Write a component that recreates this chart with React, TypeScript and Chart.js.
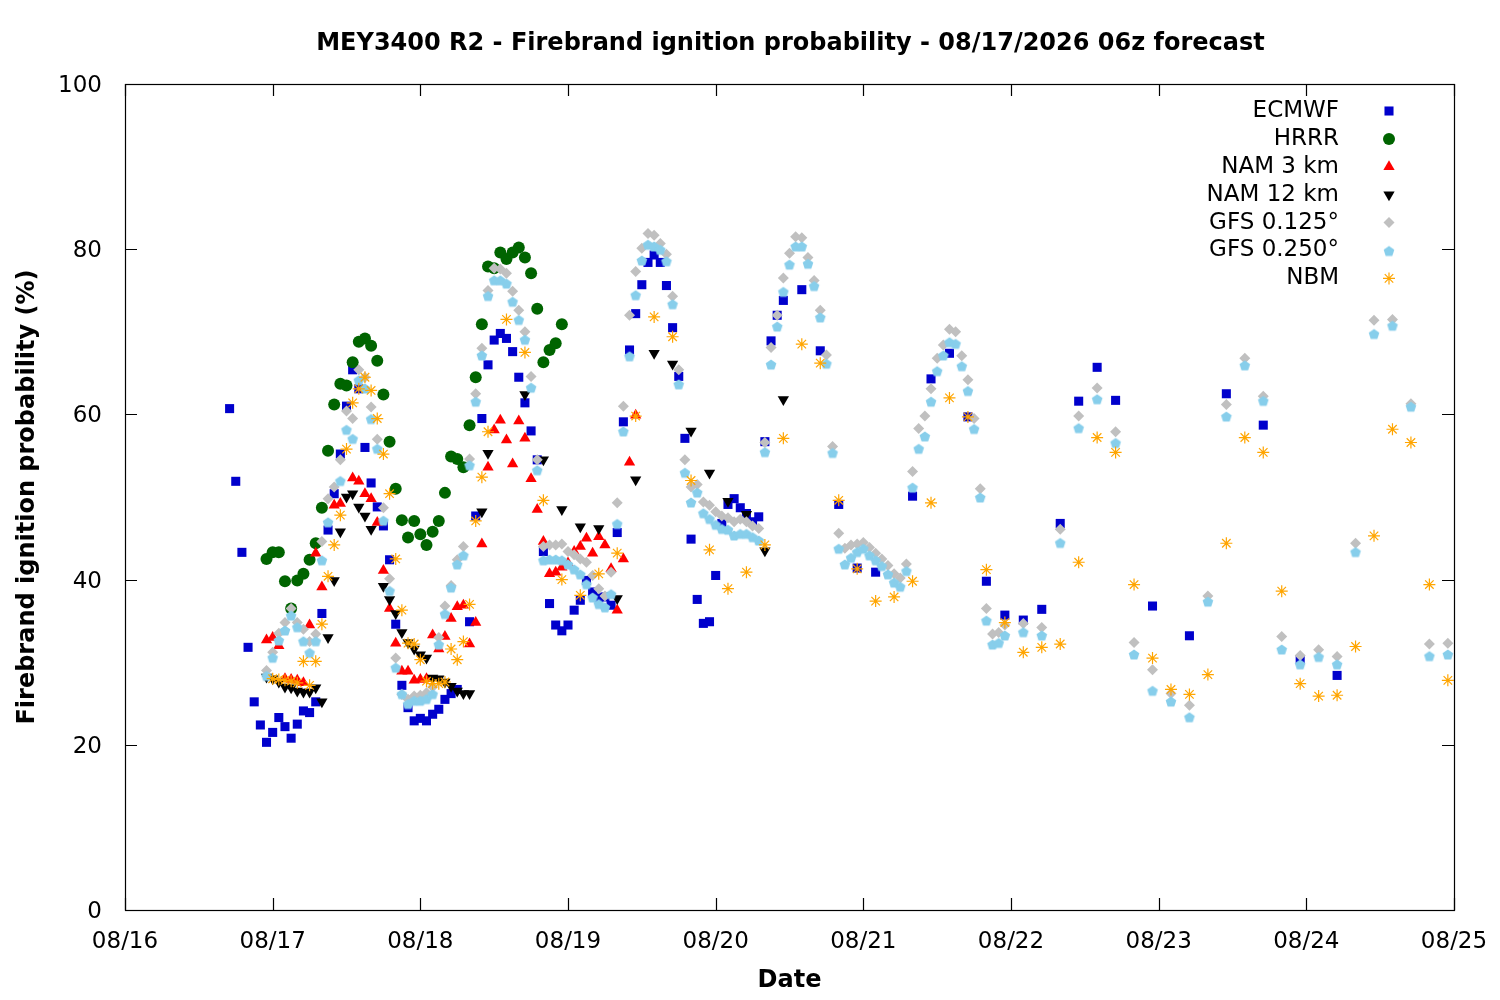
import { useEffect, useRef } from "react";
import { Chart, registerables } from "chart.js";
import { drawPoint } from "chart.js/helpers";

Chart.register(...registerables);

// hours after 08/16 00z
const dayLabels = ["08/16", "08/17", "08/18", "08/19", "08/20", "08/21", "08/22", "08/23", "08/24", "08/25"];

const ecmwfHours = [17, 18, 19, 20, 21, 22, 23, 24, 25, 26, 27, 28, 29, 30, 31, 32, 33, 34, 35, 36, 37, 38, 39, 40, 41, 42, 43, 44, 45, 46, 47, 48, 49, 50, 51, 52, 53, 54, 56, 57, 58, 59, 60, 61, 62, 63, 64, 65, 66, 67, 68, 69, 70, 71, 72, 73, 74, 75, 76, 77, 78, 79, 80, 81, 82, 83, 84, 85, 86, 87, 88, 89, 90, 91, 92, 93, 94, 95, 96, 97, 98, 99, 100, 101, 102, 103, 104, 105, 106, 107, 110, 113, 116, 119, 122, 128, 131, 134, 137, 140, 143, 146, 149, 152, 155, 158, 161, 167, 173, 179, 185, 191, 197];
const ecmwfValues = [60.7, 51.9, 43.3, 31.8, 25.2, 22.4, 20.3, 21.5, 23.3, 22.2, 20.8, 22.5, 24.1, 23.9, 25.2, 35.9, 46.0, 50.4, 55.2, 61.0, 65.4, 63.1, 56.0, 51.7, 48.8, 46.5, 42.4, 34.6, 27.2, 24.5, 22.9, 23.2, 22.9, 23.7, 24.3, 25.5, 26.2, 26.7, 34.9, 47.7, 59.5, 66.0, 69.0, 69.8, 69.2, 67.6, 64.5, 61.4, 58.0, 54.5, 43.4, 37.1, 34.5, 33.8, 34.5, 36.3, 37.5, 39.9, 38.5, 37.8, 37.9, 36.9, 45.7, 59.1, 67.8, 72.2, 75.7, 78.4, 79.3, 78.4, 75.6, 70.5, 64.6, 57.1, 44.9, 37.6, 34.7, 34.9, 40.5, 46.8, 49.1, 49.8, 48.7, 48.0, 47.0, 47.6, 56.7, 68.9, 72.0, 73.8, 75.1, 67.7, 49.1, 41.4, 40.9, 50.1, 64.3, 67.4, 59.7, 39.8, 35.7, 35.1, 36.4, 46.8, 61.6, 65.7, 61.7, 36.8, 33.2, 62.5, 58.7, 30.3, 28.4];

const hrrrHours = [23, 24, 25, 26, 27, 28, 29, 30, 31, 32, 33, 34, 35, 36, 37, 38, 39, 40, 41, 42, 43, 44, 45, 46, 47, 48, 49, 50, 51, 52, 53, 54, 55, 56, 57, 58, 59, 60, 61, 62, 63, 64, 65, 66, 67, 68, 69, 70, 71];
const hrrrValues = [42.5, 43.3, 43.3, 39.8, 36.5, 39.9, 40.7, 42.4, 44.4, 48.7, 55.6, 61.2, 63.7, 63.5, 66.3, 68.8, 69.2, 68.3, 66.5, 62.4, 56.7, 51.0, 47.2, 45.1, 47.1, 45.5, 44.2, 45.8, 47.1, 50.5, 54.9, 54.6, 53.6, 58.7, 64.5, 70.9, 77.9, 77.7, 79.6, 78.8, 79.6, 80.2, 79.0, 77.1, 72.8, 66.3, 67.8, 68.6, 70.9];

const nam3Hours = [23, 24, 25, 26, 27, 28, 29, 30, 31, 32, 34, 35, 37, 38, 39, 40, 41, 42, 43, 44, 45, 46, 47, 48, 49, 50, 51, 52, 53, 54, 55, 56, 57, 58, 59, 60, 61, 62, 63, 64, 65, 66, 67, 68, 69, 70, 71, 72, 73, 74, 75, 76, 77, 78, 79, 80, 81, 82, 83];
const nam3Values = [32.7, 33.0, 32.0, 28.0, 27.9, 27.8, 27.5, 34.5, 43.2, 39.1, 49.0, 49.2, 52.3, 51.9, 50.4, 49.8, 46.9, 41.1, 36.5, 32.3, 28.9, 28.9, 27.8, 27.9, 28.0, 33.3, 31.6, 33.1, 35.3, 36.7, 36.9, 32.2, 34.8, 44.3, 53.6, 58.1, 59.3, 56.9, 54.0, 59.2, 57.1, 52.2, 48.5, 44.6, 40.7, 40.9, 41.5, 42.0, 43.4, 44.0, 45.0, 43.2, 45.2, 44.2, 41.3, 36.3, 42.5, 54.2, 59.9];

const nam12Hours = [23, 24, 25, 26, 27, 28, 29, 30, 31, 32, 33, 34, 35, 36, 37, 38, 39, 40, 42, 43, 44, 45, 46, 47, 48, 49, 50, 51, 52, 53, 54, 55, 56, 58, 59, 65, 68, 71, 74, 77, 80, 83, 86, 89, 92, 95, 98, 101, 104, 107];
const nam12Values = [28.2, 28.0, 27.6, 27.0, 26.9, 26.5, 26.4, 26.4, 26.9, 25.2, 33.0, 39.9, 45.8, 50.0, 50.4, 48.8, 47.7, 46.1, 39.2, 37.6, 35.9, 33.6, 32.4, 31.6, 30.9, 30.5, 28.1, 28.0, 27.6, 27.1, 26.5, 26.2, 26.2, 48.2, 55.3, 62.4, 54.5, 48.5, 46.4, 46.2, 37.7, 52.1, 67.4, 66.1, 58.0, 52.9, 49.5, 47.9, 43.5, 61.8];

const gfs125Hours = [23, 24, 25, 26, 27, 28, 29, 30, 31, 32, 33, 34, 35, 36, 37, 38, 39, 40, 41, 42, 43, 44, 45, 46, 47, 48, 49, 50, 51, 52, 53, 54, 55, 56, 57, 58, 59, 60, 61, 62, 63, 64, 65, 66, 67, 68, 69, 70, 71, 72, 73, 74, 75, 76, 77, 78, 79, 80, 81, 82, 83, 84, 85, 86, 87, 88, 89, 90, 91, 92, 93, 94, 95, 96, 97, 98, 99, 100, 101, 102, 103, 104, 105, 106, 107, 108, 109, 110, 111, 112, 113, 114, 115, 116, 117, 118, 119, 120, 121, 122, 123, 124, 125, 126, 127, 128, 129, 130, 131, 132, 133, 134, 135, 136, 137, 138, 139, 140, 141, 142, 143, 146, 149, 152, 155, 158, 161, 164, 167, 170, 173, 176, 179, 182, 185, 188, 191, 194, 197, 200, 203, 206, 209, 212, 215];
const gfs125Values = [29.0, 31.2, 33.5, 34.8, 36.5, 34.8, 34.0, 32.5, 33.4, 44.6, 49.8, 51.2, 54.5, 60.4, 59.5, 65.4, 64.5, 60.9, 57.0, 48.7, 40.1, 30.5, 26.1, 25.5, 25.9, 26.0, 26.3, 27.0, 33.0, 36.8, 39.3, 42.4, 44.0, 54.6, 62.5, 68.0, 75.0, 77.7, 77.6, 77.1, 74.9, 72.6, 70.0, 64.6, 54.5, 44.0, 44.2, 44.2, 44.3, 43.4, 43.0, 42.5, 42.1, 40.5, 38.9, 38.0, 40.9, 49.3, 61.0, 72.0, 77.3, 80.1, 81.9, 81.7, 80.7, 79.4, 74.3, 65.4, 54.5, 51.2, 51.5, 49.4, 49.0, 48.2, 47.7, 47.5, 47.0, 47.3, 47.0, 46.5, 46.2, 56.6, 68.1, 72.0, 76.5, 79.5, 81.5, 81.4, 79.0, 76.2, 72.6, 67.2, 56.1, 45.6, 43.8, 44.2, 44.3, 44.5, 43.9, 43.2, 42.5, 41.7, 40.7, 40.2, 41.9, 53.1, 58.3, 59.8, 63.1, 66.8, 68.4, 70.3, 70.0, 67.1, 64.2, 59.5, 51.0, 36.5, 33.4, 33.6, 34.5, 34.7, 34.2, 46.1, 59.8, 63.2, 57.9, 32.4, 29.1, 26.2, 24.8, 38.0, 61.2, 66.8, 62.2, 33.1, 30.8, 31.5, 30.7, 44.4, 71.4, 71.5, 61.3, 32.2, 32.3];

const gfs250Hours = [23, 24, 25, 26, 27, 28, 29, 30, 31, 32, 33, 35, 36, 37, 38, 39, 40, 41, 42, 43, 44, 45, 46, 47, 48, 49, 50, 51, 52, 53, 54, 55, 56, 57, 58, 59, 60, 61, 62, 63, 64, 65, 66, 67, 68, 69, 70, 71, 72, 73, 74, 75, 76, 77, 78, 79, 80, 81, 82, 83, 84, 85, 86, 87, 88, 89, 90, 91, 92, 93, 94, 95, 96, 97, 98, 99, 100, 101, 102, 103, 104, 105, 106, 107, 108, 109, 110, 111, 112, 113, 114, 115, 116, 117, 118, 119, 120, 121, 122, 123, 124, 125, 126, 127, 128, 129, 130, 131, 132, 133, 134, 135, 136, 137, 138, 139, 140, 141, 142, 143, 146, 149, 152, 155, 158, 161, 164, 167, 170, 173, 176, 179, 182, 185, 188, 191, 194, 197, 200, 203, 206, 209, 212, 215];
const gfs250Values = [28.4, 30.6, 32.7, 33.9, 35.7, 34.3, 32.6, 31.2, 32.6, 42.4, 47.0, 52.0, 58.2, 57.1, 64.2, 63.2, 59.5, 55.9, 47.2, 38.7, 29.4, 26.2, 25.0, 25.4, 25.4, 25.6, 26.2, 32.2, 35.9, 39.1, 41.9, 43.0, 53.9, 61.6, 67.2, 74.4, 76.3, 76.3, 75.9, 73.7, 71.5, 69.1, 63.3, 53.3, 42.4, 42.5, 42.5, 42.4, 41.9, 41.3, 40.7, 39.5, 37.9, 37.1, 36.7, 38.3, 46.8, 58.0, 67.1, 74.5, 78.7, 80.6, 80.4, 80.0, 78.6, 73.4, 63.7, 53.0, 49.4, 50.6, 48.1, 47.4, 46.7, 46.2, 46.1, 45.4, 45.6, 45.6, 45.2, 44.8, 55.5, 66.1, 70.7, 74.9, 78.2, 80.4, 80.4, 78.3, 75.6, 71.8, 66.2, 55.4, 43.8, 41.9, 42.7, 43.4, 43.8, 43.0, 42.4, 41.7, 40.7, 39.7, 39.2, 41.1, 51.2, 55.9, 57.4, 61.6, 65.3, 67.2, 68.8, 68.6, 65.9, 62.9, 58.3, 50.0, 35.1, 32.2, 32.4, 33.3, 33.7, 33.3, 44.5, 58.4, 61.9, 56.6, 31.0, 26.6, 25.3, 23.4, 37.4, 59.8, 66.0, 61.7, 31.6, 29.8, 30.7, 29.8, 43.4, 69.8, 70.8, 61.0, 30.8, 31.0];

const nbmHours = [24, 25, 26, 27, 28, 29, 30, 31, 32, 33, 34, 35, 36, 37, 38, 39, 40, 41, 42, 43, 44, 45, 46, 47, 48, 49, 50, 51, 52, 53, 54, 55, 56, 57, 58, 59, 62, 65, 68, 71, 74, 77, 80, 83, 86, 89, 92, 95, 98, 101, 104, 107, 110, 113, 116, 119, 122, 125, 128, 131, 134, 137, 140, 143, 146, 149, 152, 155, 158, 161, 164, 167, 170, 173, 176, 179, 182, 185, 188, 191, 194, 197, 200, 203, 206, 209, 212, 215];
const nbmValues = [28.0, 27.9, 27.8, 27.7, 27.5, 30.1, 27.2, 30.1, 34.6, 40.4, 44.2, 47.8, 55.8, 61.4, 63.1, 64.5, 62.9, 59.5, 55.2, 50.4, 42.5, 36.3, 32.3, 32.2, 30.3, 27.7, 27.4, 27.4, 27.6, 31.6, 30.3, 32.5, 37.0, 47.1, 52.4, 57.9, 71.5, 67.5, 49.6, 40.0, 38.1, 40.7, 43.2, 59.8, 71.8, 69.4, 52.0, 43.6, 38.9, 40.9, 44.2, 57.1, 68.5, 66.2, 49.6, 41.3, 37.4, 37.9, 39.8, 49.3, 62.0, 59.7, 41.2, 34.8, 31.2, 31.8, 32.2, 42.1, 57.2, 55.4, 39.4, 30.5, 26.7, 26.1, 28.5, 44.4, 57.2, 55.4, 38.6, 27.4, 25.9, 26.0, 31.9, 45.3, 58.2, 56.6, 39.4, 27.8];

const FONT = '"DejaVu Sans", "Liberation Sans", sans-serif';

function makePentagon(r: number, color: string) {
    const c = document.createElement("canvas");
    const size = Math.ceil(r * 2 + 2);
    c.width = size;
    c.height = size;
    const ctx = c.getContext("2d")!;
    ctx.fillStyle = color;
    ctx.beginPath();
    for (let i = 0; i < 5; i++) {
        const a = -Math.PI / 2 + (i * 2 * Math.PI) / 5;
        const px = size / 2 + r * Math.cos(a);
        const py = size / 2 + 1 + r * Math.sin(a);
        if (i === 0) ctx.moveTo(px, py);
        else ctx.lineTo(px, py);
    }
    ctx.closePath();
    ctx.fill();
    return c;
}

const toPoints = (hours: number[], values: number[]) => hours.map((h, i) => ({ x: h, y: values[i] }));

// gnuplot-like frame, inward ticks, title, axis labels and key
const gnuplotDecor = {
    id: "gnuplotDecor",
    afterDraw(chart: any) {
        const { ctx, chartArea: a, scales } = chart;
        ctx.save();
        ctx.strokeStyle = "#000";
        ctx.lineWidth = 1.2;
        ctx.strokeRect(Math.round(a.left) + 0.5, Math.round(a.top) + 0.5, Math.round(a.right - a.left), Math.round(a.bottom - a.top));

        const tick = 12;
        ctx.beginPath();
        for (const t of scales.x.ticks) {
            const px = Math.round(scales.x.getPixelForValue(t.value)) + 0.5;
            ctx.moveTo(px, a.bottom);
            ctx.lineTo(px, a.bottom - tick);
            ctx.moveTo(px, a.top);
            ctx.lineTo(px, a.top + tick);
        }
        for (const t of scales.y.ticks) {
            const py = Math.round(scales.y.getPixelForValue(t.value)) + 0.5;
            ctx.moveTo(a.left, py);
            ctx.lineTo(a.left + tick, py);
            ctx.moveTo(a.right, py);
            ctx.lineTo(a.right - tick, py);
        }
        ctx.stroke();

        ctx.fillStyle = "#000";
        ctx.textAlign = "center";
        ctx.textBaseline = "middle";
        ctx.font = `bold 24px ${FONT}`;
        const cx = (a.left + a.right) / 2;
        ctx.fillText("MEY3400 R2 - Firebrand ignition probability - 08/17/2026 06z forecast", cx + 1, 44);
        ctx.fillText("Date", cx, 981);
        ctx.save();
        ctx.translate(28, (a.top + a.bottom) / 2);
        ctx.rotate(-Math.PI / 2);
        ctx.fillText("Firebrand ignition probability (%)", 0, 0);
        ctx.restore();

        ctx.font = `23px ${FONT}`;
        ctx.textAlign = "right";
        chart.data.datasets.forEach((ds: any, i: number) => {
            const y = a.top + 27 + i * 27.9;
            ctx.fillStyle = "#000";
            ctx.fillText(ds.label, a.right - 115, y);
            ctx.fillStyle = ds.pointBackgroundColor;
            ctx.strokeStyle = ds.pointBorderColor;
            ctx.lineWidth = ds.pointBorderWidth;
            drawPoint(ctx, {
                pointStyle: ds.pointStyle,
                radius: ds.pointRadius,
                rotation: ds.pointRotation || 0,
                borderWidth: ds.pointBorderWidth
            }, a.right - 65, y);
        });
        ctx.restore();
    }
};

export default function App() {
    const canvasRef = useRef<HTMLCanvasElement>(null);

    useEffect(() => {
        document.body.style.margin = "0";
        const canvas = canvasRef.current;
        if (!canvas) return;

        const mk = (label: string, hours: number[], values: number[], color: string, pointStyle: any, radius: number, order: number, extra: any = {}) => ({
            label,
            data: toPoints(hours, values),
            showLine: false,
            pointStyle,
            pointRadius: radius,
            pointHoverRadius: radius,
            pointBackgroundColor: color,
            pointBorderColor: color,
            pointBorderWidth: 0,
            order,
            ...extra
        });

        const chart = new Chart(canvas, {
            type: "scatter",
            data: {
                datasets: [
                    mk("ECMWF", ecmwfHours, ecmwfValues, "#0000cc", "rect", 6.4, 7),
                    mk("HRRR", hrrrHours, hrrrValues, "#006400", "circle", 6, 6),
                    mk("NAM 3 km", nam3Hours, nam3Values, "#ff0000", "triangle", 6.5, 5),
                    mk("NAM 12 km", nam12Hours, nam12Values, "#000000", "triangle", 6.5, 4, { pointRotation: 180 }),
                    mk("GFS 0.125°", gfs125Hours, gfs125Values, "#c0c0c0", "rectRot", 5.5, 3),
                    mk("GFS 0.250°", gfs250Hours, gfs250Values, "#87ceeb", makePentagon(5.6, "#87ceeb"), 6, 2),
                    mk("NBM", nbmHours, nbmValues, "#ffa500", "star", 6, 1, { pointBorderWidth: 1.2 })
                ]
            },
            options: {
                responsive: false,
                animation: false,
                devicePixelRatio: 1,
                layout: { padding: { top: 84, right: 46, left: 0, bottom: 0 } },
                plugins: {
                    legend: { display: false },
                    tooltip: { enabled: false },
                    title: { display: false }
                },
                scales: {
                    x: {
                        type: "linear",
                        min: 0,
                        max: 216,
                        grid: { display: false },
                        border: { display: false },
                        ticks: {
                            stepSize: 24,
                            color: "#000",
                            padding: 10,
                            maxRotation: 0,
                            autoSkip: false,
                            font: { family: FONT, size: 23 },
                            callback: (v: any) => dayLabels[Math.round(Number(v) / 24)] ?? ""
                        },
                        afterFit: (s: any) => { s.height = 90; }
                    },
                    y: {
                        min: 0,
                        max: 100,
                        grid: { display: false },
                        border: { display: false },
                        ticks: {
                            stepSize: 20,
                            color: "#000",
                            padding: 15,
                            labelOffset: 2,
                            font: { family: FONT, size: 23 }
                        },
                        afterFit: (s: any) => { s.width = 125; }
                    }
                }
            },
            plugins: [gnuplotDecor]
        });

        return () => chart.destroy();
    }, []);

    return (
        <div style={{ width: 1500, height: 1000, overflow: "hidden", background: "#fff" }}>
            <canvas ref={canvasRef} width={1500} height={1000} style={{ display: "block" }} />
        </div>
    );
}
